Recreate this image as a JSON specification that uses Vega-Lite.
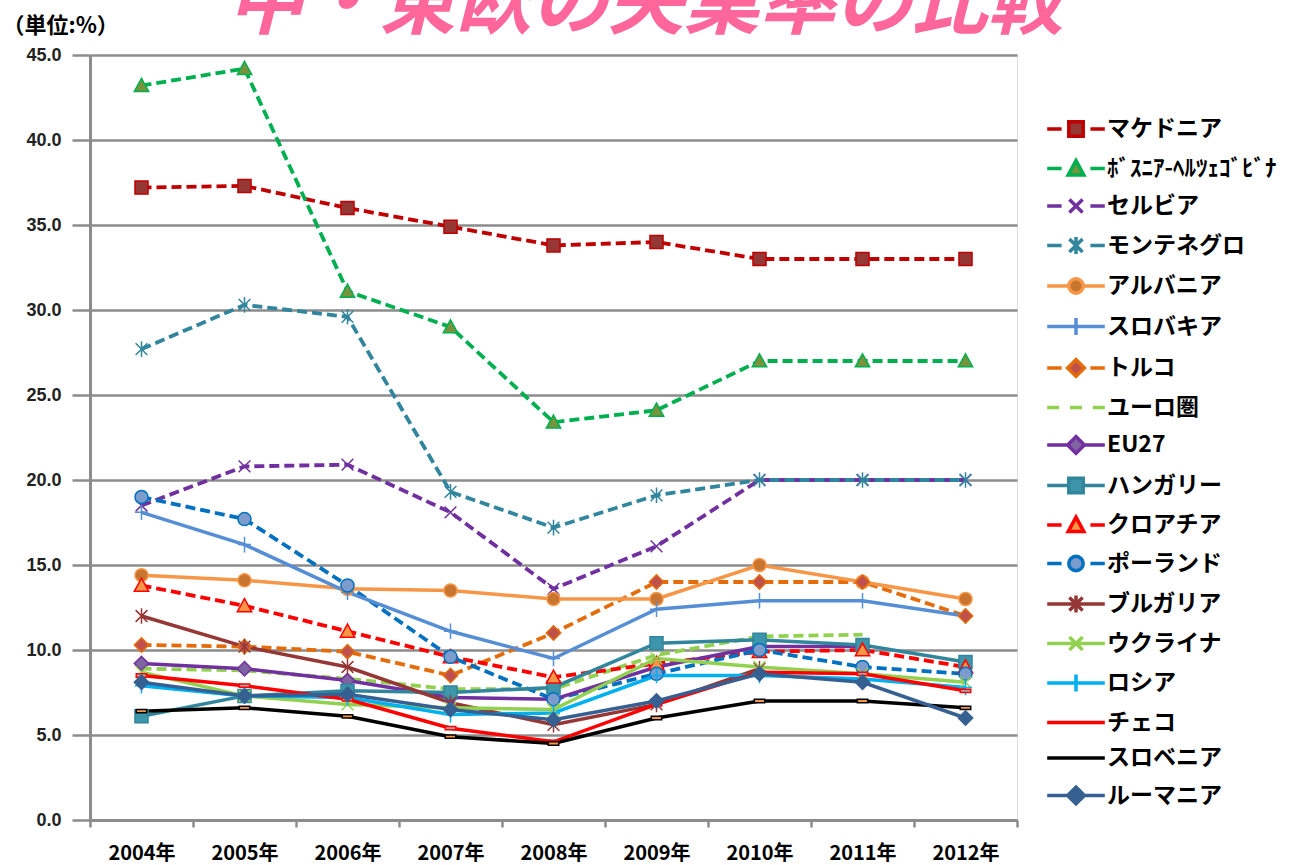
{
"$schema":"https://vega.github.io/schema/vega-lite/v6.json",
"width":927,"height":765,
"autosize":{"type":"none"},
"padding":{"left":90,"top":55,"right":289,"bottom":45},
"background":"white",
"title":{"text":"中・東欧の失業率の比較","font":"Noto Sans CJK JP","fontSize":76,"fontWeight":"bold","fontStyle":"italic","color":"#FF6699","anchor":"middle","frame":"group","dx":92,"baseline":"top","offset":-30},
"data":{"values":[
{"country":"マケドニア","year":"2004年","rate":37.2},{"country":"マケドニア","year":"2005年","rate":37.3},{"country":"マケドニア","year":"2006年","rate":36.0},{"country":"マケドニア","year":"2007年","rate":34.9},{"country":"マケドニア","year":"2008年","rate":33.8},{"country":"マケドニア","year":"2009年","rate":34.0},{"country":"マケドニア","year":"2010年","rate":33.0},{"country":"マケドニア","year":"2011年","rate":33.0},{"country":"マケドニア","year":"2012年","rate":33.0},
{"country":"ﾎﾞｽﾆｱ-ﾍﾙﾂｪｺﾞﾋﾞﾅ","year":"2004年","rate":43.2},{"country":"ﾎﾞｽﾆｱ-ﾍﾙﾂｪｺﾞﾋﾞﾅ","year":"2005年","rate":44.2},{"country":"ﾎﾞｽﾆｱ-ﾍﾙﾂｪｺﾞﾋﾞﾅ","year":"2006年","rate":31.1},{"country":"ﾎﾞｽﾆｱ-ﾍﾙﾂｪｺﾞﾋﾞﾅ","year":"2007年","rate":29.0},{"country":"ﾎﾞｽﾆｱ-ﾍﾙﾂｪｺﾞﾋﾞﾅ","year":"2008年","rate":23.4},{"country":"ﾎﾞｽﾆｱ-ﾍﾙﾂｪｺﾞﾋﾞﾅ","year":"2009年","rate":24.1},{"country":"ﾎﾞｽﾆｱ-ﾍﾙﾂｪｺﾞﾋﾞﾅ","year":"2010年","rate":27.0},{"country":"ﾎﾞｽﾆｱ-ﾍﾙﾂｪｺﾞﾋﾞﾅ","year":"2011年","rate":27.0},{"country":"ﾎﾞｽﾆｱ-ﾍﾙﾂｪｺﾞﾋﾞﾅ","year":"2012年","rate":27.0},
{"country":"セルビア","year":"2004年","rate":18.5},{"country":"セルビア","year":"2005年","rate":20.8},{"country":"セルビア","year":"2006年","rate":20.9},{"country":"セルビア","year":"2007年","rate":18.1},{"country":"セルビア","year":"2008年","rate":13.6},{"country":"セルビア","year":"2009年","rate":16.1},{"country":"セルビア","year":"2010年","rate":20.0},{"country":"セルビア","year":"2011年","rate":20.0},{"country":"セルビア","year":"2012年","rate":20.0},
{"country":"モンテネグロ","year":"2004年","rate":27.7},{"country":"モンテネグロ","year":"2005年","rate":30.3},{"country":"モンテネグロ","year":"2006年","rate":29.6},{"country":"モンテネグロ","year":"2007年","rate":19.3},{"country":"モンテネグロ","year":"2008年","rate":17.2},{"country":"モンテネグロ","year":"2009年","rate":19.1},{"country":"モンテネグロ","year":"2010年","rate":20.0},{"country":"モンテネグロ","year":"2011年","rate":20.0},{"country":"モンテネグロ","year":"2012年","rate":20.0},
{"country":"アルバニア","year":"2004年","rate":14.4},{"country":"アルバニア","year":"2005年","rate":14.1},{"country":"アルバニア","year":"2006年","rate":13.6},{"country":"アルバニア","year":"2007年","rate":13.5},{"country":"アルバニア","year":"2008年","rate":13.0},{"country":"アルバニア","year":"2009年","rate":13.0},{"country":"アルバニア","year":"2010年","rate":15.0},{"country":"アルバニア","year":"2011年","rate":14.0},{"country":"アルバニア","year":"2012年","rate":13.0},
{"country":"スロバキア","year":"2004年","rate":18.1},{"country":"スロバキア","year":"2005年","rate":16.2},{"country":"スロバキア","year":"2006年","rate":13.4},{"country":"スロバキア","year":"2007年","rate":11.1},{"country":"スロバキア","year":"2008年","rate":9.5},{"country":"スロバキア","year":"2009年","rate":12.4},{"country":"スロバキア","year":"2010年","rate":12.9},{"country":"スロバキア","year":"2011年","rate":12.9},{"country":"スロバキア","year":"2012年","rate":12.0},
{"country":"トルコ","year":"2004年","rate":10.3},{"country":"トルコ","year":"2005年","rate":10.2},{"country":"トルコ","year":"2006年","rate":9.9},{"country":"トルコ","year":"2007年","rate":8.5},{"country":"トルコ","year":"2008年","rate":11.0},{"country":"トルコ","year":"2009年","rate":14.0},{"country":"トルコ","year":"2010年","rate":14.0},{"country":"トルコ","year":"2011年","rate":14.0},{"country":"トルコ","year":"2012年","rate":12.0},
{"country":"ユーロ圏","year":"2004年","rate":8.9},{"country":"ユーロ圏","year":"2005年","rate":8.8},{"country":"ユーロ圏","year":"2006年","rate":8.3},{"country":"ユーロ圏","year":"2007年","rate":7.7},{"country":"ユーロ圏","year":"2008年","rate":7.7},{"country":"ユーロ圏","year":"2009年","rate":9.7},{"country":"ユーロ圏","year":"2010年","rate":10.8},{"country":"ユーロ圏","year":"2011年","rate":10.9},
{"country":"EU27","year":"2004年","rate":9.2},{"country":"EU27","year":"2005年","rate":8.9},{"country":"EU27","year":"2006年","rate":8.2},{"country":"EU27","year":"2007年","rate":7.2},{"country":"EU27","year":"2008年","rate":7.1},{"country":"EU27","year":"2009年","rate":9.0},{"country":"EU27","year":"2010年","rate":10.2},{"country":"EU27","year":"2011年","rate":10.2},
{"country":"ハンガリー","year":"2004年","rate":6.1},{"country":"ハンガリー","year":"2005年","rate":7.3},{"country":"ハンガリー","year":"2006年","rate":7.6},{"country":"ハンガリー","year":"2007年","rate":7.5},{"country":"ハンガリー","year":"2008年","rate":7.8},{"country":"ハンガリー","year":"2009年","rate":10.4},{"country":"ハンガリー","year":"2010年","rate":10.6},{"country":"ハンガリー","year":"2011年","rate":10.3},{"country":"ハンガリー","year":"2012年","rate":9.3},
{"country":"クロアチア","year":"2004年","rate":13.8},{"country":"クロアチア","year":"2005年","rate":12.6},{"country":"クロアチア","year":"2006年","rate":11.1},{"country":"クロアチア","year":"2007年","rate":9.6},{"country":"クロアチア","year":"2008年","rate":8.4},{"country":"クロアチア","year":"2009年","rate":9.2},{"country":"クロアチア","year":"2010年","rate":9.9},{"country":"クロアチア","year":"2011年","rate":10.0},{"country":"クロアチア","year":"2012年","rate":9.0},
{"country":"ポーランド","year":"2004年","rate":19.0},{"country":"ポーランド","year":"2005年","rate":17.7},{"country":"ポーランド","year":"2006年","rate":13.8},{"country":"ポーランド","year":"2007年","rate":9.6},{"country":"ポーランド","year":"2008年","rate":7.1},{"country":"ポーランド","year":"2009年","rate":8.6},{"country":"ポーランド","year":"2010年","rate":10.0},{"country":"ポーランド","year":"2011年","rate":9.0},{"country":"ポーランド","year":"2012年","rate":8.6},
{"country":"ブルガリア","year":"2004年","rate":12.0},{"country":"ブルガリア","year":"2005年","rate":10.2},{"country":"ブルガリア","year":"2006年","rate":9.0},{"country":"ブルガリア","year":"2007年","rate":6.9},{"country":"ブルガリア","year":"2008年","rate":5.6},{"country":"ブルガリア","year":"2009年","rate":6.8},{"country":"ブルガリア","year":"2010年","rate":8.9},
{"country":"ウクライナ","year":"2004年","rate":8.7},{"country":"ウクライナ","year":"2005年","rate":7.3},{"country":"ウクライナ","year":"2006年","rate":6.8},{"country":"ウクライナ","year":"2007年","rate":6.6},{"country":"ウクライナ","year":"2008年","rate":6.5},{"country":"ウクライナ","year":"2009年","rate":9.5},{"country":"ウクライナ","year":"2010年","rate":9.0},{"country":"ウクライナ","year":"2011年","rate":8.6},{"country":"ウクライナ","year":"2012年","rate":8.1},
{"country":"ロシア","year":"2004年","rate":7.9},{"country":"ロシア","year":"2005年","rate":7.3},{"country":"ロシア","year":"2006年","rate":7.2},{"country":"ロシア","year":"2007年","rate":6.2},{"country":"ロシア","year":"2008年","rate":6.3},{"country":"ロシア","year":"2009年","rate":8.5},{"country":"ロシア","year":"2010年","rate":8.5},{"country":"ロシア","year":"2011年","rate":8.3},{"country":"ロシア","year":"2012年","rate":7.8},
{"country":"チェコ","year":"2004年","rate":8.5},{"country":"チェコ","year":"2005年","rate":7.9},{"country":"チェコ","year":"2006年","rate":7.1},{"country":"チェコ","year":"2007年","rate":5.4},{"country":"チェコ","year":"2008年","rate":4.6},{"country":"チェコ","year":"2009年","rate":6.8},{"country":"チェコ","year":"2010年","rate":8.7},{"country":"チェコ","year":"2011年","rate":8.6},{"country":"チェコ","year":"2012年","rate":7.6},
{"country":"スロベニア","year":"2004年","rate":6.4},{"country":"スロベニア","year":"2005年","rate":6.6},{"country":"スロベニア","year":"2006年","rate":6.1},{"country":"スロベニア","year":"2007年","rate":4.9},{"country":"スロベニア","year":"2008年","rate":4.5},{"country":"スロベニア","year":"2009年","rate":6.0},{"country":"スロベニア","year":"2010年","rate":7.0},{"country":"スロベニア","year":"2011年","rate":7.0},{"country":"スロベニア","year":"2012年","rate":6.6},
{"country":"ルーマニア","year":"2004年","rate":8.1},{"country":"ルーマニア","year":"2005年","rate":7.3},{"country":"ルーマニア","year":"2006年","rate":7.4},{"country":"ルーマニア","year":"2007年","rate":6.5},{"country":"ルーマニア","year":"2008年","rate":5.9},{"country":"ルーマニア","year":"2009年","rate":7.0},{"country":"ルーマニア","year":"2010年","rate":8.6},{"country":"ルーマニア","year":"2011年","rate":8.1},{"country":"ルーマニア","year":"2012年","rate":6.0}
]},
"resolve":{"scale":{"stroke":"independent","fill":"independent","shape":"independent"}},
"layer":[
{"mark":{"type":"line","strokeWidth":3.8,"strokeCap":"butt","strokeDash":[10,5]},
 "transform":[{"filter":{"field":"country","oneOf":["マケドニア","ﾎﾞｽﾆｱ-ﾍﾙﾂｪｺﾞﾋﾞﾅ","セルビア","モンテネグロ","トルコ","ユーロ圏","クロアチア","ポーランド"]}}],
 "encoding":{
  "x":{"field":"year","type":"ordinal","bandPosition":0.5,"scale":{"type":"band","paddingInner":0,"paddingOuter":0},
   "axis":{"title":null,"tickBand":"extent","labelAngle":0,"labelFont":"Noto Sans CJK JP","labelFontSize":20,"labelFontWeight":"bold","labelColor":"#000","tickColor":"#8c8c8c","tickSize":7,"tickWidth":2.5,"domainColor":"#8c8c8c","domainWidth":3,"grid":false,"labelPadding":16}},
  "y":{"field":"rate","type":"quantitative","scale":{"domain":[0,45],"nice":false},
   "axis":{"values":[0,5,10,15,20,25,30,35,40,45],"format":".1f","tickSize":18,"tickColor":"#8c8c8c","tickWidth":2.5,"grid":true,"gridColor":"#8c8c8c","gridWidth":2.5,"gridOpacity":1,"domainColor":"#8c8c8c","domainWidth":3,"labelFont":"Liberation Sans","labelFontSize":18,"labelFontWeight":"bold","labelColor":"#222","labelPadding":11,
    "title":"（単位:%）","titleAngle":0,"titleX":-88,"titleY":-30,"titleAlign":"left","titleBaseline":"middle","titleFont":"Noto Sans CJK JP","titleFontSize":22,"titleFontWeight":"bold","titleColor":"#000"}},
  "stroke":{"field":"country","type":"nominal","legend":null,
   "scale":{"domain":["マケドニア","ﾎﾞｽﾆｱ-ﾍﾙﾂｪｺﾞﾋﾞﾅ","セルビア","モンテネグロ","アルバニア","スロバキア","トルコ","ユーロ圏","EU27","ハンガリー","クロアチア","ポーランド","ブルガリア","ウクライナ","ロシア","チェコ","スロベニア","ルーマニア"],
    "range":["#C00000","#00B050","#7030A0","#31859C","#F79646","#558ED5","#E46C0A","#92D050","#7030A0","#31859C","#FF0000","#0070C0","#953735","#92D050","#00B0F0","#FF0000","#000000","#376092"]}}
 }},
{"mark":{"type":"line","strokeWidth":3.5,"strokeCap":"butt"},
 "transform":[{"filter":{"not":{"field":"country","oneOf":["マケドニア","ﾎﾞｽﾆｱ-ﾍﾙﾂｪｺﾞﾋﾞﾅ","セルビア","モンテネグロ","トルコ","ユーロ圏","クロアチア","ポーランド"]}}}],
 "encoding":{
  "x":{"field":"year","type":"ordinal","bandPosition":0.5},
  "y":{"field":"rate","type":"quantitative"},
  "stroke":{"field":"country","type":"nominal","legend":null,
   "scale":{"domain":["マケドニア","ﾎﾞｽﾆｱ-ﾍﾙﾂｪｺﾞﾋﾞﾅ","セルビア","モンテネグロ","アルバニア","スロバキア","トルコ","ユーロ圏","EU27","ハンガリー","クロアチア","ポーランド","ブルガリア","ウクライナ","ロシア","チェコ","スロベニア","ルーマニア"],
    "range":["#C00000","#00B050","#7030A0","#31859C","#F79646","#558ED5","#E46C0A","#92D050","#7030A0","#31859C","#FF0000","#0070C0","#953735","#92D050","#00B0F0","#FF0000","#000000","#376092"]}}
 }},
{"mark":{"type":"point","filled":true,"size":170,"strokeWidth":1.5,"opacity":1},
 "transform":[{"filter":"datum.country !== 'ユーロ圏'"}],
 "encoding":{
  "x":{"field":"year","type":"ordinal","bandPosition":0.5},
  "y":{"field":"rate","type":"quantitative"},
  "stroke":{"field":"country","type":"nominal","legend":null,
   "scale":{"domain":["マケドニア","ﾎﾞｽﾆｱ-ﾍﾙﾂｪｺﾞﾋﾞﾅ","セルビア","モンテネグロ","アルバニア","スロバキア","トルコ","ユーロ圏","EU27","ハンガリー","クロアチア","ポーランド","ブルガリア","ウクライナ","ロシア","チェコ","スロベニア","ルーマニア"],
    "range":["#C00000","#00B050","#7030A0","#31859C","#F79646","#558ED5","#E46C0A","#92D050","#7030A0","#31859C","#FF0000","#0070C0","#953735","#92D050","#00B0F0","#FF0000","#000000","#376092"]}},
  "fill":{"field":"country","type":"nominal","legend":null,
   "scale":{"domain":["マケドニア","ﾎﾞｽﾆｱ-ﾍﾙﾂｪｺﾞﾋﾞﾅ","セルビア","モンテネグロ","アルバニア","スロバキア","トルコ","ユーロ圏","EU27","ハンガリー","クロアチア","ポーランド","ブルガリア","ウクライナ","ロシア","チェコ","スロベニア","ルーマニア"],
    "range":["#953735","#77933C","#7030A0","#31859C","#C8762F","#558ED5","#C0504D","#92D050","#8064A2","#3D95AC","#F79646","#7B9CCC","#953735","#92D050","#00B0F0","#A6A6A6","#F79646","#376092"]}},
  "shape":{"field":"country","type":"nominal","legend":null,
   "scale":{"domain":["マケドニア","ﾎﾞｽﾆｱ-ﾍﾙﾂｪｺﾞﾋﾞﾅ","セルビア","モンテネグロ","アルバニア","スロバキア","トルコ","ユーロ圏","EU27","ハンガリー","クロアチア","ポーランド","ブルガリア","ウクライナ","ロシア","チェコ","スロベニア","ルーマニア"],
    "range":["M-1,-1H1V1H-1Z","M0,-1.1L1.1,0.9H-1.1Z","M-0.9,-0.9L0.9,0.9M-0.9,0.9L0.9,-0.9","M-0.9,-0.9L0.9,0.9M-0.9,0.9L0.9,-0.9M0,-1.2V1.2","M-1,0A1,1,0,1,1,1,0A1,1,0,1,1,-1,0Z","M-1,0H1M0,-1.2V1.2","M0,-1.1L1.1,0L0,1.1L-1.1,0Z","M0,0L0,0","M0,-1.1L1.1,0L0,1.1L-1.1,0Z","M-1,-1H1V1H-1Z","M0,-1.1L1.1,0.9H-1.1Z","M-1,0A1,1,0,1,1,1,0A1,1,0,1,1,-1,0Z","M-0.9,-0.9L0.9,0.9M-0.9,0.9L0.9,-0.9M0,-1.2V1.2","M-0.9,-0.9L0.9,0.9M-0.9,0.9L0.9,-0.9","M-1,0H1M0,-1.2V1.2","M-0.8,-0.25H0.8V0.25H-0.8Z","M-0.8,-0.25H0.8V0.25H-0.8Z","M0,-1.1L1.1,0L0,1.1L-1.1,0Z"]}}
 }},
{"mark":{"type":"point","filled":true,"size":10,"strokeWidth":3.5,"opacity":0},
 "transform":[{"filter":{"field":"year","equal":"2004年"}}],
 "encoding":{
  "x":{"field":"year","type":"ordinal","bandPosition":0.5},
  "y":{"field":"rate","type":"quantitative"},
  "stroke":{"field":"country","type":"nominal",
   "legend":{"orient":"none","legendX":972,"legendY":60,"title":null,"symbolSize":576,"symbolStrokeWidth":3.5,"symbolOpacity":1,"labelFont":"Noto Sans CJK JP","labelFontSize":23,"labelFontWeight":"bold","labelColor":"#000","labelOffset":17,"rowPadding":9.5,"labelLimit":320,"padding":0},
   "scale":{"domain":["マケドニア","ﾎﾞｽﾆｱ-ﾍﾙﾂｪｺﾞﾋﾞﾅ","セルビア","モンテネグロ","アルバニア","スロバキア","トルコ","ユーロ圏","EU27","ハンガリー","クロアチア","ポーランド","ブルガリア","ウクライナ","ロシア","チェコ","スロベニア","ルーマニア"],
    "range":["#C00000","#00B050","#7030A0","#31859C","#F79646","#558ED5","#E46C0A","#92D050","#7030A0","#31859C","#FF0000","#0070C0","#953735","#92D050","#00B0F0","#FF0000","#000000","#376092"]}},
  "fill":{"field":"country","type":"nominal",
   "legend":{"orient":"none","legendX":972,"legendY":60,"title":null,"symbolSize":576,"symbolStrokeWidth":3.5,"symbolOpacity":1,"labelFont":"Noto Sans CJK JP","labelFontSize":23,"labelFontWeight":"bold","labelColor":"#000","labelOffset":17,"rowPadding":9.5,"labelLimit":320,"padding":0},
   "scale":{"domain":["マケドニア","ﾎﾞｽﾆｱ-ﾍﾙﾂｪｺﾞﾋﾞﾅ","セルビア","モンテネグロ","アルバニア","スロバキア","トルコ","ユーロ圏","EU27","ハンガリー","クロアチア","ポーランド","ブルガリア","ウクライナ","ロシア","チェコ","スロベニア","ルーマニア"],
    "range":["#953735","#77933C","#7030A0","#31859C","#C8762F","#558ED5","#C0504D","#92D050","#8064A2","#3D95AC","#F79646","#7B9CCC","#953735","#92D050","#00B0F0","#A6A6A6","#F79646","#376092"]}},
  "shape":{"field":"country","type":"nominal",
   "legend":{"orient":"none","legendX":972,"legendY":60,"title":null,"symbolSize":576,"symbolStrokeWidth":3.5,"symbolOpacity":1,"labelFont":"Noto Sans CJK JP","labelFontSize":23,"labelFontWeight":"bold","labelColor":"#000","labelOffset":17,"rowPadding":9.5,"labelLimit":320,"padding":0},
   "scale":{"domain":["マケドニア","ﾎﾞｽﾆｱ-ﾍﾙﾂｪｺﾞﾋﾞﾅ","セルビア","モンテネグロ","アルバニア","スロバキア","トルコ","ユーロ圏","EU27","ハンガリー","クロアチア","ポーランド","ブルガリア","ウクライナ","ロシア","チェコ","スロベニア","ルーマニア"],
    "range":["M-2.4,0H-1.2M1.2,0H2.4M-0.6,-0.6H0.6V0.6H-0.6Z","M-2.4,0H-1.2M1.2,0H2.4M0,-0.65L0.65,0.55H-0.65Z","M-2.4,0H-1.2M1.2,0H2.4M-0.55,-0.55L0.55,0.55M-0.55,0.55L0.55,-0.55","M-2.4,0H-1.2M1.2,0H2.4M-0.55,-0.55L0.55,0.55M-0.55,0.55L0.55,-0.55M0,-0.7V0.7","M-2.4,0H-0.7M0.7,0H2.4M-0.6,0A0.6,0.6,0,1,1,0.6,0A0.6,0.6,0,1,1,-0.6,0Z","M-2.4,0H2.4M0,-0.7V0.7","M-2.4,0H-1.2M1.2,0H2.4M0,-0.7L0.7,0L0,0.7L-0.7,0Z","M-2.4,0H-1.4M-0.5,0H0.5M1.4,0H2.4","M-2.4,0H-0.7M0.7,0H2.4M0,-0.7L0.7,0L0,0.7L-0.7,0Z","M-2.4,0H-0.7M0.7,0H2.4M-0.6,-0.6H0.6V0.6H-0.6Z","M-2.4,0H-1.2M1.2,0H2.4M0,-0.65L0.65,0.55H-0.65Z","M-2.4,0H-1.2M1.2,0H2.4M-0.6,0A0.6,0.6,0,1,1,0.6,0A0.6,0.6,0,1,1,-0.6,0Z","M-2.4,0H2.4M-0.55,-0.55L0.55,0.55M-0.55,0.55L0.55,-0.55M0,-0.7V0.7","M-2.4,0H2.4M-0.55,-0.55L0.55,0.55M-0.55,0.55L0.55,-0.55","M-2.4,0H2.4M0,-0.7V0.7","M-2.4,0H2.4","M-2.4,0H2.4","M-2.4,0H-0.7M0.7,0H2.4M0,-0.7L0.7,0L0,0.7L-0.7,0Z"]}}
 }}
]
}
